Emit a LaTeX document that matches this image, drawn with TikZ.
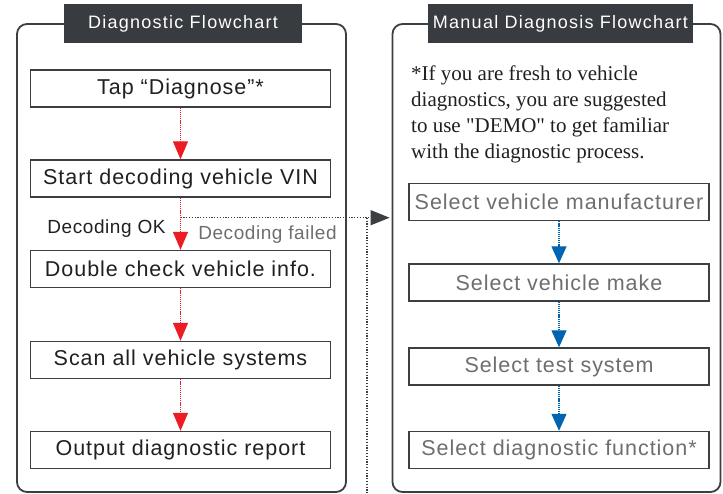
\documentclass[tikz,border=0pt]{standalone}
\usepackage{fontspec}
\setmainfont{Liberation Sans}
\newfontfamily\boxfont[LetterSpace=4.5]{Liberation Sans}
\newfontfamily\labelfont[LetterSpace=3]{Liberation Sans}
\newfontfamily\tabfont[LetterSpace=7]{Liberation Sans}
\newfontfamily\notefont{Liberation Serif}
\usetikzlibrary{arrows.meta,positioning}
\definecolor{tabgrey}{HTML}{383B40}
\definecolor{framegrey}{HTML}{3C3E42}
\definecolor{inkdark}{HTML}{231F20}
\definecolor{inkgrey}{HTML}{6D6E71}
\definecolor{flowred}{HTML}{ED1C24}
\definecolor{flowblue}{HTML}{0064B0}

\begin{document}
\begin{tikzpicture}[x=1pt,y=-1pt,
	panel/.style={draw=framegrey,line width=1.8pt,rounded corners=10pt,
		minimum width=#1,minimum height=468pt,inner sep=0pt},
	tab/.style={fill=tabgrey,text=white,minimum width=#1,minimum height=39pt,
		inner sep=0pt,font=\tabfont\fontsize{18}{22}\selectfont},
	stepbox/.style={draw=framegrey,line width=1.4pt,fill=white,minimum width=300pt,
		minimum height=37pt,inner sep=0pt,font=\boxfont\fontsize{21.5}{25}\selectfont},
	redflow/.style={color=flowred,line width=1.2pt,dash pattern=on 1.2pt off 0.9pt,
		-{Triangle[width=15pt,length=18pt]}},
	blueflow/.style={color=flowblue,line width=1.2pt,dash pattern=on 1.2pt off 0.9pt,
		-{Triangle[width=15pt,length=17pt]}},
	failflow/.style={color=framegrey,line width=1.2pt,dash pattern=on 1.2pt off 1.6pt}]
	% the two frames and their titles
	\useasboundingbox (0,0) rectangle (723,493);
	\draw (181.5,258) node [panel=329pt] (auto) {};
	\draw (556.5,258) node [panel=328pt] (manual) {};
	\draw (183,23.5) node [tab=238pt] (autotitle) {Diagnostic Flowchart};
	\draw (560.5,23.5) node [tab=265pt] (manualtitle) {Manual Diagnosis Flowchart};
	% left column
	\draw (180.5,88.5) node [stepbox,text=inkdark] (tap) {Tap “Diagnose”*};
	\draw (180.5,178.5) node [stepbox,text=inkdark] (vin) {Start decoding vehicle VIN};
	\draw (180.5,269) node [stepbox,text=inkdark] (check) {Double check vehicle info.};
	\draw (180.5,360) node [stepbox,text=inkdark] (scan) {Scan all vehicle systems};
	\draw (180.5,450) node [stepbox,text=inkdark] (report) {Output diagnostic report};
	% right column
	\draw (411,66) node [anchor=north west,align=left,inner sep=0pt,text=inkdark,
		font=\notefont\fontsize{21}{26}\selectfont] (hint)
		{*If you are fresh to vehicle\\diagnostics, you are suggested\\to use "DEMO" to get familiar\\with the diagnostic process.};
	\draw (559,202) node [stepbox,text=inkgrey] (maker) {Select vehicle manufacturer};
	\draw (559,282.5) node [stepbox,text=inkgrey] (make) {Select vehicle make};
	\draw (559,366.5) node [stepbox,text=inkgrey] (system) {Select test system};
	\draw (559,450) node [stepbox,text=inkgrey] (function) {Select diagnostic function*};
	\path[redflow]
		(tap) edge (vin)
		(vin) edge (check)
		(check) edge (scan)
		(scan) edge (report);
	\path[blueflow]
		(maker) edge (make)
		(make) edge (system)
		(system) edge (function);
	% decoding branch
	\coordinate (fork) at ([yshift=-20pt]vin.south);
	\coordinate (drop) at (367,493);
	\draw (106.5,233) node [anchor=base,inner sep=0pt,text=inkdark,
		font=\labelfont\fontsize{19}{22}\selectfont] (ok) {Decoding OK};
	\draw (267.5,239) node [anchor=base,inner sep=0pt,text=inkgrey,
		font=\labelfont\fontsize{19}{22}\selectfont] (failed) {Decoding failed};
	\draw[failflow,-{Triangle[width=15pt,length=19pt]}] (fork) -- ([xshift=-2pt]fork -| manual.west);
	\draw[failflow] (fork -| drop) -- (drop);
\end{tikzpicture}
\end{document}
